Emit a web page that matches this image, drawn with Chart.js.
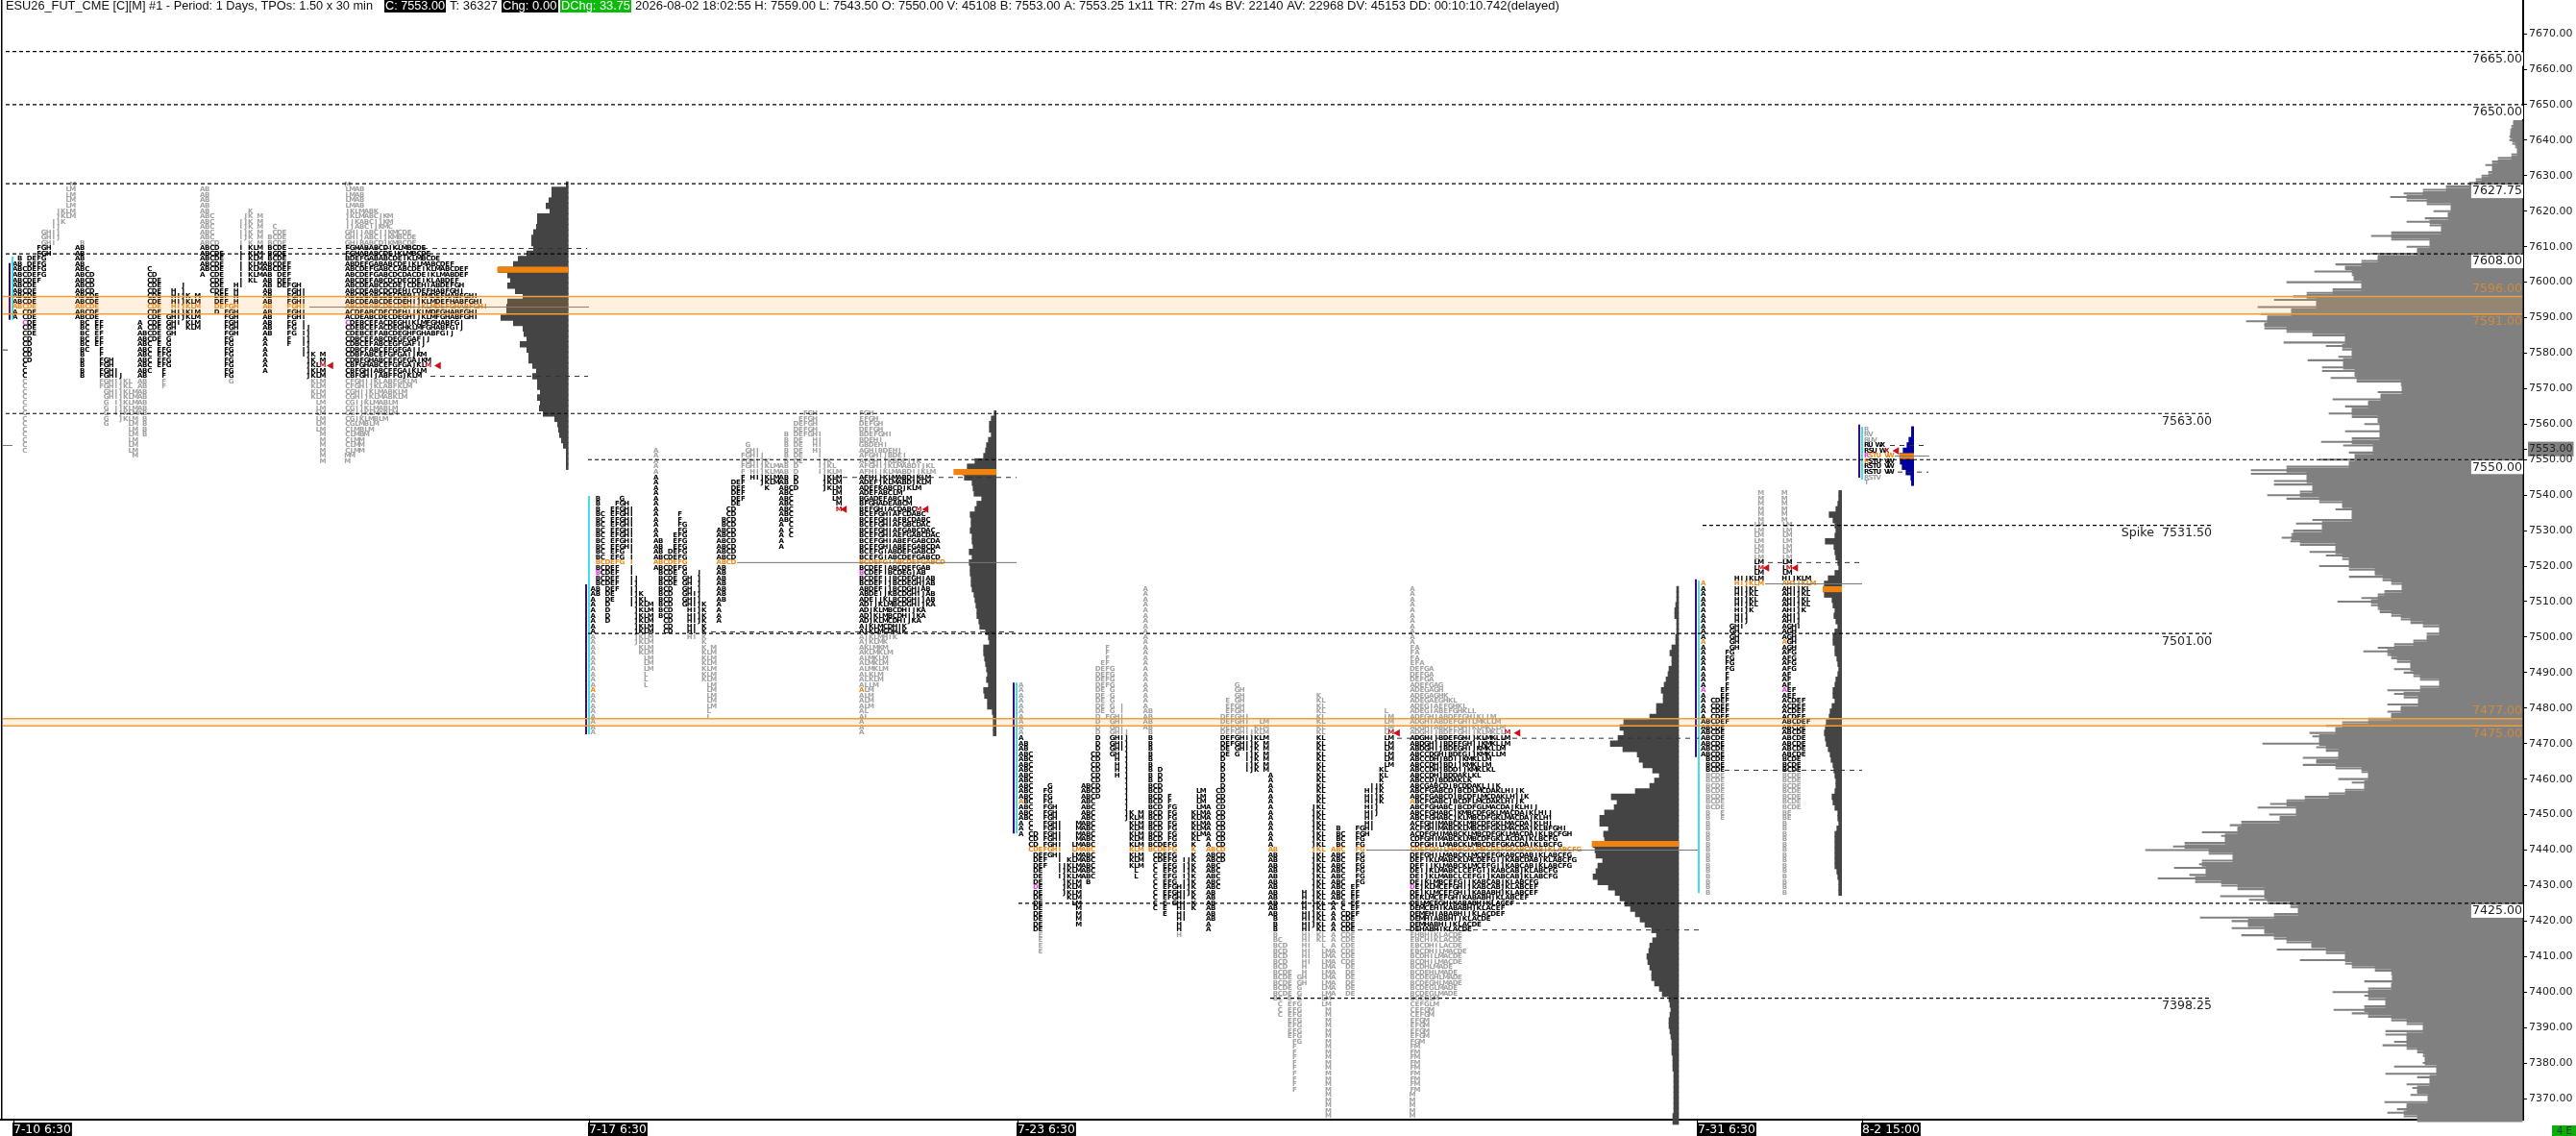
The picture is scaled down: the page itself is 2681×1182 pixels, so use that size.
<!DOCTYPE html>
<html>
<head>
<meta charset="utf-8">
<title>ESU26_FUT_CME market profile</title>
<script src="https://cdn.jsdelivr.net/npm/chart.js@4"></script>
<style>
  html, body { margin: 0; padding: 0; background: #fff; overflow: hidden; }
  canvas { display: block; }
</style>
</head>
<body>
<canvas id="profileChart" width="2681" height="1182"></canvas>
<script>
// ---- price axis
const yTicks = [7670,7660,7650,7640,7630,7620,7610,7600,7590,7580,7570,7560,7553,7550,7540,7530,7520,7510,7500,7490,7480,7470,7460,7450,7440,7430,7420,7410,7400,7390,7380,7370];
const lastPrice = 7553;

// ---- bar axis (x is the bar position on the time axis)
const xTicks = [14, 613, 1059, 1767, 1938];
const xTickLabels = ["7-10 6:30", "7-17 6:30", "7-23 6:30", "7-31 6:30", "8-2 15:00"];

// ---- TPO rows, one small list per day. Each row holds the letters printed at that price.
const jul10Day1 = "M LM LM LM LM JKLM JKLM IJK IJ GHIJ GHIJ GHI FGH FGH BDEFG ABDEFG ABCDEFG ABCDEFG ABCDEF ABCDE ABCDE ABCDE ABCDE ABCDE ACDE ACDE CDE CDE CDE CD CD CD CD CD C C C C C C C C C C C C C C C C C".split(" ");
const jul10Day2 = "B AB AB AB AB ABC ABCD ABCD ABCD ABCD ABCDE ABCDE ABCDE ABCDE ABCDE BCEF BCEF BCEF BCEF BCEF BCF BF BFGH BFGH BFGHI BFGHIJ FGHIJKL FGHIJKL GHIJKLM GHIJKLM GIJKLM GIJKLM GIJKLM GJKLM GLM LM LM LM LM LM M".split(" ");
const jul10Day3 = "C CD CDE CDEJ CDEHJ CDEHIJKM CDEHIJKLM CDEHIJKLM CDEHIJKLM CDEGHIJKLM ACDEGHIKLM ACDEGHKLM ABCDEGH ABCDEG ABCEG ABCEFG ABCEFG ABCEFG ABCEFG ABCF ABF ABF ABF AB AB AB AB AB B B B B".split(" ");
const jul10Day4 = "AB AB AB AB ABK ABCJKM ABCIJKM ABCIJKM ABCIJKM ABCIJKM ABCDIKM ABCDIKLM ABCDEIKLM ABCDEIKLM ABCDEIKLM ABCDEIKLM ACDEIKLM CDEIKL CDEHI CDEFH DEFH DEFH DEFGH DFGH FGH FGH FGH FGH FG FG FG FG FG FG FG FG G".split(" ");
const jul10Day5 = "C CDE BCDE BCDE BCDE BCDE BCDE ABCDEF ABCDEF ABDEF ABDEF ABDEFGH ABFGHI ABFGHI ABFGHI ABFGHI ABFGHI ABFGHI ABFGI ABFGIJ ABFGIJ AFIJ AFIJ AIJ AIJKM AJKM AJKLM AJKLM JKLM KLM KLM KLM KLM LM LM LM LM LM LM M M M M M M".split(" ");

const jul17Day1 = "BG BFGH BEFGHI BCEFGHI BCEFGHI BCEFGHI BCEFGHI BCEFGHI BCEFGHI BCEFGHI BCEFGI BCEFGI BCDEFGI BCDEFI BCDEFI BCDEFIJ BCDEFIJ ABDEFIJ ABDEIJK ADEIJKL ADIJKLM ADJKLM ADJKLM ADJKLM AJKLM AJKLM AJKLM AJKLM AKLM AKLM ALM ALM ALM AL AL AL A A A A A A A A A".split(" ");
const jul17Day2 = "A A A A A A A A A A A A AF AF AFG AFG AEFG ABEFG ABEFG ABDEFG ABCDEFG ABCDEFG ABCDEFG BCDEGJ BCDEGHJ BCDEGHJ BCDGHJ BCDGHIJ BCDGHIJ BCDGHIJK BCDHIJK BCDHIJK CDHIJK CDHIK CDHIK HIK K KM KLM KLM KLM KLM KLM KLM LM LM LM LM LM L L".split(" ");
const jul17Day3 = "G GHI FGHIJ FGHIJK FGHIJKLM FHIJKLM FHIJKLM DEFJKLM DEFK DEF DEF DE CD CD BCD BCD ABCD ABCD ABCD ABCD ABCD ABCD ABCD AB AB AB AB AB AB AB A A A A".split(" ");
const jul17Day4 = "FGH EFGH DEFGH DEFGH BDEFGHI BDEHI BDEHI BDEHI BDEI BDEIJK ABDIJKL ABDIJKLM ABDJKLM ABDJKLM ABCDJKLM ABCLM ABCLM ABCM ABCM ABC ABC AC AC AC A A".split(" ");

const jul23Day1 = "A A A A A A A A A A A AB AB ABC ABC ABC ABC ABC ABC ABCG ABCFG ABCFG ABCFG ABCFGH ABCFGH ABCFGH ACFGHIM ACFGHIM ACDFGHIM CDFGHIM CDFGHILM CDEFGHILM DEFGHILM DEFIKLM DEFIJKLM DEIJKLM DEIJKLM DEJKLM DEJKLM DEJKLM DEKLM DELM DEM DEM DEM DEM DE E E E E".split(" ");
const jul23Day2 = "F F F EF DEFG DEFG DEFG DEFG DEG DEG DEG DEGI DEGI DFGHI DGHI DGHI DGHIJ DGHIJ DGHIJ DGHIJ CDGHJ CDHJ CDHJ CDHJ CDHJ CDJ ABCDJ ABCDJ ABCDJ ABCJ ABCJ ABCJKM ABCJKLM ABCKLM ABCKLM ABCKLM ABCKLM ABCKLM ABCKLM ABCKLM ABCKLM ABCKLM ABCL ABCL B".split(" ");
const jul23Day3 = "A A A A A A A A A A A A A A A A A A A A A A A AB AB AB AB B B B B B B B BD BD BD BCD BCDLM BCDFLM BCDFLM BCDFGLM BCDFGKLM BCDFGKLM BCDFGKLM BCDFGKLM BCDFGKLM BCDFGKL BCDEFGK BCDEFGK CDEFGK CDEFGIJK CEFGIJK CEFGIJK CEFGIJK CEFGIJK CEFGHIJK CEFGHIJK CEFGHIK CEGHIK CEHIK EHI HI H H H".split(" ");
const jul23Day4 = "G GH GH EGH EFGH EFGH DEFGHI DEFGHILM DEFGHIKLM DEFGHIJKLM DEFGHIJKLM DEFGHIJKM DEGHIJKM DEGIJKM DIJKM DIJKM DIJKM D D D CD CD CD ACD ACD ACD ACD ACD ACD ACD ACD ABCD ABCD ABCD ABC ABC ABC ABC ABC AB AB AB AB AB AB A A".split(" ");
const jul23Day5 = "K KL KL KL KL KL KL KL KL KL KL KL KL KL KL AKL AKL AKL AKL AKL AKL AJKL AJKL AJKL AJKL AJKL AJKL AJKL AJKL ABJKL ABJKL ABJKL ABJKL ABJKL ABJKL ABJKL ABJKL ABHJKL ABHJKL ABHJKL ABHJKL ABHIJKL BHIJKL BHIJKL BHIKL BHIKL BCHIKL BCDHIL BCDHILM BCDHILM BCDHILM BCDHLM BCDEHLM BCDEGHLM BCDEGHLM BCDEGLM BCDEGLM BCEGLM CEFGLM CEFGM CEFGM EFGM EFGM EFGM EFGM FGM FM FM FM FM FM FM FM FM FM M M M M M".split(" ");
const jul23Day6 = "L LM LM LM LM LM LM LM LM LM LM KL KL K IJK HIJK HIJK HIJK HIJ HIJ HI HI BFGHI BCFGH BCFG BCFG ABCFG ABCFG ABCFG ABCFG ABCFG ABCFG ABCFG ABCEF ABCEF ABCEF ACEF ACEF ACDEF ACDE ACDE ACDE ACDE ACDE ACDE ACDE ACDE ACDE ADE ADE ADE ADE ADE ADE".split(" ");

const jul31Day1 = "M M M M M M LM LM LM LM LM LM LM LM LM LM HIJKLM AHIJKLM AHIJKL AHIJKL AHIJKL AHIJKL AHIJK AHIJ AHIJ AGHI AGH AGH AGH AGH AFG AFG AFG AFG AF AF AF AEF AEF ACDEF ACDEF ACDEF ACDEF ABCDEF ABCDE ABCDE ABCDE ABCDE ABCDE ABCDE BCDE BCDE BCDE BCDE BCDE BCDE BCDE BCDE BCDE BCDE BE BE B B B B B B B B B B B B B B".split(" ");

const aug2Rows = ["R", "RV", "RUV", "RU WX", "RSU WX", "RSTU VW", "RSTU VW", "RSTU VW", "RSTU VW", "RSTV", "T"];

// first row price / VA rows / POC row of each session
const sessionTop = [7627.5, 7563, 7513.5, 7540.5, 7558.5];
const vaTopRow = [12, 12, 28, 13, 3];
const vaBottomRow = [36, 41, 64, 52, 8];
const pocRow = [23, 28, 49, 17, 5];

// [session, day, row, letter, kind]
const letterMarks = [
  [0,0,26,"C","open"], [0,4,34,"M","last"],
  [1,0,30,"B","open"], [1,0,52,"A","ib"], [1,3,18,"M","last"],
  [2,0,40,"A","ib"], [2,0,56,"D","open"], [2,5,27,"M","last"],
  [3,0,28,"A","ib"], [3,0,37,"A","open"], [3,0,14,"M","last"],
  [4,0,5,"R","open"], [4,0,6,"R","ib"], [4,0,4,"X","last"]
];

// ---- session histograms (width in axis units per TPO row)
const hist1 = [2,17,17,20,23,19,32,32,33,36,38,38,36,43,52,57,72,63,60,63,55,47,63,64,64,70,57,47,46,43,50,43,41,41,37,33,37,32,32,29,32,29,30,26,14,11,10,9,7,5,2,2,2,2];
const hist2 = [2,5,7,7,5,8,10,11,13,22,30,35,33,25,24,23,15,20,22,27,26,26,27,25,25,24,28,25,28,27,27,26,26,25,23,22,21,20,20,18,17,11,8,7,13,13,12,11,10,9,10,8,13,12,9,9,4,3,3,3,3];
const hist3 = [2,2,2,3,4,4,2,2,2,3,3,7,9,7,7,10,11,13,15,18,16,16,23,23,30,57,61,57,63,71,58,43,41,37,27,20,25,30,45,70,64,67,77,82,82,73,78,77,89,87,
  86,79,84,86,89,84,73,66,61,56,50,45,40,35,28,23,27,30,31,33,32,30,28,28,25,20,17,10,9,8,9,10,10,9,8,7,7,7,6,6,6,5,5,5,5,5,5,5,5,6,6];
const hist4 = [3,3,4,6,13,9,7,6,7,17,8,7,6,4,3,7,14,18,19,18,10,9,7,8,6,4,7,9,9,7,7,5,4,3,4,6,7,9,9,7,10,12,13,16,17,18,17,16,14,12,11,9,8,7,6,6,7,10,9,7,4,4,3,5,7,7,7,7,7,7,7,5,4,3,3,3];
const hist5 = [2.3,2.3,5,7,11,14.5,14,12,8,3,2.3];
const histPocPrice = [7603.5, 7546.5, 7441.75, 7513.5, 7551];
const histPocWidth = [73.5, 44, 90, 19.3, 14.5];

// ---- composite volume profile at the right, one value per point from 7645 down to 7364
const volumeTop = 7645;
const volume = [9,11,12,12,13,13,10,7,5,11,25,31,38,31,35,42,48,55,79,
  103,123,137,120,99,74,92,77,101,120,96,84,136,157,136,96,120,109,157,150,167,194,184,216,177,175,245,167,197,224,238,258,214,275,240,272,265,287,268,268,245,218,184,248,204,187,177,191,223,186,208,208,174,199,172,126,125,150,147,197,160,184,177,201,177,150,164,148,184,148,177,209,186,155,180,174,211,180,245,282,282,224,258,258,218,231,265,245,211,187,194,177,177,218,235,208,238,240,250,
  241,231,194,221,204,187,180,211,180,153,180,145,136,125,143,150,167,192,157,150,148,136,126,116,103,86,99,99,113,133,150,165,140,136,130,116,133,123,113,106,86,106,140,133,123,108,140,126,140,136,160,187,204,194,221,218,211,270,214,204,191,228,214,228,194,167,160,191,177,164,184,201,226,245,262,275,235,263,252,292,304,296,333,313,309,351,363,392,326,301,333,336,362,329,346,379,340,313,296,268,314,284,265,241,233,258,335,302,285,302,268,292,258,245,219,255,204,184,231,184,177,153,136,135,164,136,160,197,164,160,142,164,196,177,160,136,120,103,142,142,120,133,145,120,109,103,101,103,133,89,142,109,96,120,114,109,116,98,143,120,130,140,123,109];

// ---- price levels
const levelPrices = [7665, 7650, 7627.75, 7608, 7550, 7425, 7563, 7501, 7398.25, 7531.5];
const levelFrom = [6, 6, 6, 6, 612, 1060, 6, 612, 1322, 1772];
const levelTo = [2625, 2625, 2625, 2625, 2625, 2625, 2302, 2302, 2302, 2302];
const levelNames = ["", "", "", "", "", "", "", "", "", "Spike  "];
const zonePrices = [[7596, 7591], [7477, 7475]];

// ---- value area and POC lines of each session [price, from, to]
const vaLines = [[7609.5,300,611],[7573.5,448,612],[7545,867,1058],[7501.5,740,1058],[7471.5,1454,1768],[7417.5,1413,1768],[7521,1840,1937],[7462.5,1795,1938],[7554,1967,2007],[7546.5,1965,2007],[7580.9,3,13]];
const pocLines = [[7593,322,613],[7521,767,1058],[7440,1422,1767],[7515,1837,1938],[7551,1972,2008],[7554,3,13]];

// ---- session range bars [bar position, high, low]
const cyanRanges = [[13,7607.2,7589.4],[613,7539.75,7472.6],[1058,7487.2,7444.7],[1768,7515.9,7427.9],[1938,7559.3,7544.4]];
const purpleRanges = [[10,7605.4,7589.4],[610,7514.9,7472.6],[1055,7487.2,7444.7],[1765,7516.3,7466.2],[1935,7559.9,7544.9]];

// ---- red last-price arrows [bar position, price]
const lastArrows = [[344.5,7576.5],[456.5,7576.5],[879,7536],[964,7536],[1454.6,7473],[1580,7473],[1839,7519.5],[1869,7519.5],[1974,7552.5]];

const headerText1 = "ESU26_FUT_CME [C][M] #1 - Period: 1 Days, TPOs: 1.50 x 30 min";
const headerText2 = "2026-08-02 18:02:55 H: 7559.00 L: 7543.50 O: 7550.00 V: 45108 B: 7553.00 A: 7553.25 1x11 TR: 27m 4s BV: 22140 AV: 22968 DV: 45153 DD: 00:10:10.742(delayed)";

// ---- layout of the sessions on the bar axis
const sessions = [
  { days: [[jul10Day1,0,15.7],[jul10Day2,11,80.7],[jul10Day3,16,145.7],[jul10Day4,1,210.7],[jul10Day5,8,276]], comp: 361.7, edge: 591.3, hist: hist1 },
  { days: [[jul17Day1,16,617.3],[jul17Day2,7,682.7],[jul17Day3,6,748.3],[jul17Day4,0,813.3]], comp: 896.7, edge: 1036.7, hist: hist2 },
  { days: [[jul23Day1,18,1062.8],[jul23Day2,11,1127.6],[jul23Day3,0,1192.3],[jul23Day4,18,1257.7],[jul23Day5,20,1322.4],[jul23Day6,23,1387.8]], comp: 1470, edge: 1747, hist: hist3 },
  { days: [[jul31Day1,0,1772.7]], comp: 1857.3, edge: 1916.7, hist: hist4 },
  { days: [], comp: 1942.7, edge: 1991.7, hist: hist5, rows: aug2Rows }
];

const COLORS = { black: "#000", grey: "#a2a2a2", poc: "#f0881a", open: "#e040e0", ib: "#f0881a", last: "#c01818" };
const LETTER_STEP = 5, COMP_STEP = 4.95;
const VOLUME_EDGE = 2625;

function letterColor(s, d, r, ch) {
  for (const m of letterMarks) {
    if (m[0] === s && m[1] === d && m[2] === r && m[3] === ch) return COLORS[m[4]];
  }
  if (r === pocRow[s]) return COLORS.poc;
  if (r >= vaTopRow[s] && r <= vaBottomRow[s]) return COLORS.black;
  return COLORS.grey;
}

// draws the TPO letters, behind the level lines
const tpoLetters = {
  id: "tpoLetters",
  beforeDatasetsDraw(chart) {
    const ctx = chart.ctx, xs = chart.scales.x, ys = chart.scales.y;
    ctx.save();
    ctx.font = 'bold 7px "DejaVu Sans"';
    ctx.textAlign = "center";
    ctx.textBaseline = "middle";
    sessions.forEach((ses, s) => {
      const rowCount = ses.rows ? ses.rows.length : Math.max(...ses.days.map(d => d[1] + d[0].length));
      for (let r = 0; r < rowCount; r++) {
        const py = ys.getPixelForValue(sessionTop[s] - 1.5 * r);
        let k = 0;
        if (ses.rows) {
          for (const ch of ses.rows[r]) {
            if (ch !== " ") {
              ctx.fillStyle = letterColor(s, 0, r, ch);
              ctx.fillText(ch, xs.getPixelForValue(ses.comp + 4.2 * k), py);
            }
            k++;
          }
          continue;
        }
        ses.days.forEach((day, d) => {
          const row = day[0][r - day[1]];
          if (!row) return;
          for (const ch of row) {
            ctx.fillStyle = letterColor(s, d, r, ch);
            ctx.fillText(ch, xs.getPixelForValue(day[2] + LETTER_STEP * (ch.charCodeAt(0) - 65)), py);
            ctx.fillText(ch, xs.getPixelForValue(ses.comp + COMP_STEP * k), py);
            k++;
          }
        });
      }
    });
    ctx.restore();
  }
};

function priceLabel(ctx, text, right, cy, color, box) {
  ctx.font = '12.6px "DejaVu Sans"';
  ctx.textAlign = "right";
  ctx.textBaseline = "middle";
  if (box) {
    const w = ctx.measureText(text).width;
    ctx.fillStyle = "#fff";
    ctx.fillRect(right - w - 1, cy - 7, w + 2, 14);
  }
  ctx.fillStyle = color;
  ctx.fillText(text, right, cy);
}

// header line, level labels and the left frame line
const overlayText = {
  id: "overlayText",
  afterDraw(chart) {
    const ctx = chart.ctx, ys = chart.scales.y;
    ctx.save();
    levelPrices.forEach((p, i) => {
      const boxed = levelTo[i] === VOLUME_EDGE;
      priceLabel(ctx, levelNames[i] + p.toFixed(2), levelTo[i], ys.getPixelForValue(p) + 8, "#222", boxed);
    });
    zonePrices.forEach(z => {
      priceLabel(ctx, z[0].toFixed(2), VOLUME_EDGE, ys.getPixelForValue(z[0]) - 8, "#d08a3c", false);
      priceLabel(ctx, z[1].toFixed(2), VOLUME_EDGE, ys.getPixelForValue(z[1]) + 8, "#d08a3c", false);
    });

    ctx.fillStyle = "#000";
    ctx.fillRect(1, 0, 1.5, 1165);

    const head = (text, x, w, bg, fg) => {
      if (bg) { ctx.fillStyle = bg; ctx.fillRect(x - 1, 0, w + 2, 13); }
      ctx.fillStyle = fg;
      ctx.fillText(text, x, 6.5, w);
    };
    ctx.font = '13px "Liberation Sans"';
    ctx.textAlign = "left";
    ctx.textBaseline = "middle";
    head(headerText1, 6, 382, null, "#111");
    head("C: 7553.00", 401, 62, "#000", "#fff");
    head("T: 36327", 468, 50, null, "#111");
    head("Chg: 0.00", 523, 57, "#000", "#fff");
    head("DChg: 33.75", 584, 72, "#0cba0c", "#fff");
    head(headerText2, 661, 971, null, "#111");

    ctx.fillStyle = "#0cae0c";
    ctx.fillRect(2656, 1171, 25, 11);
    ctx.fillStyle = "#143";
    ctx.font = '10px "DejaVu Sans"';
    ctx.fillText("4 E", 2661, 1177);
    ctx.restore();
  }
};

const datasets = [];

function barSet(rows, color, thick, order) {
  datasets.push({
    type: "bar", indexAxis: "y", data: rows, backgroundColor: color, borderWidth: 0,
    barThickness: thick, grouped: false, order: order, clip: false
  });
}
function lineSet(points, color, width, dash, order, extra) {
  datasets.push(Object.assign({
    type: "scatter", showLine: true, data: points, borderColor: color, borderWidth: width,
    borderDash: dash, pointRadius: 0, order: order, clip: false
  }, extra || {}));
}

// level lines, then value area / POC lines
levelPrices.forEach((p, i) => lineSet([{ x: levelFrom[i], y: p }, { x: levelTo[i], y: p }], "#000", 1.2, [4, 3], 2));
vaLines.forEach(l => lineSet([{ x: l[1], y: l[0] }, { x: l[2], y: l[0] }], "#333", 1, [5, 5], 2));
pocLines.forEach(l => lineSet([{ x: l[1], y: l[0] }, { x: l[2], y: l[0] }], "#777", 1, [], 3));

// orange zones over everything
zonePrices.forEach(z => {
  lineSet([{ x: 3, y: z[0] }, { x: VOLUME_EDGE, y: z[0] }], "#e8a040", 1.5, [], 1, { fill: "+1", backgroundColor: "rgba(255,160,60,0.16)" });
  lineSet([{ x: 3, y: z[1] }, { x: VOLUME_EDGE, y: z[1] }], "#e8a040", 1.5, [], 1);
});

// session range bars
cyanRanges.forEach(r => lineSet([{ x: r[0], y: r[1] }, { x: r[0], y: r[2] }], "#3fe0ea", 2, [], 4));
purpleRanges.forEach(r => lineSet([{ x: r[0], y: r[1] }, { x: r[0], y: r[2] }], "#3c0a7c", 2, [], 4));

// session histograms and POC bars
sessions.forEach((ses, s) => {
  const color = ses.rows ? "#00009c" : "#444";
  barSet(ses.hist.map((w, i) => ({ y: sessionTop[s] - 1.5 * i, x: [ses.edge - w, ses.edge] })), color, 5.9, 6);
  barSet([{ y: histPocPrice[s], x: [ses.edge - histPocWidth[s], ses.edge] }], "#f0820f", 5.5, 5);
});

// composite volume profile: solid body under thin spikes
barSet(volume.map((w, i) => ({ y: volumeTop - i, x: [VOLUME_EDGE - w, VOLUME_EDGE] })), "#808080", 1.4, 7);
barSet(volume.map((w, i) => {
  const prev = i > 0 ? volume[i - 1] : w, next = i < volume.length - 1 ? volume[i + 1] : w;
  return { y: volumeTop - i, x: [VOLUME_EDGE - Math.min(prev, w, next), VOLUME_EDGE] };
}), "#808080", 4.1, 7);

// last price arrows
datasets.push({
  type: "scatter", data: lastArrows.map(a => ({ x: a[0], y: a[1] })), pointStyle: "triangle", rotation: 270,
  pointRadius: 4.5, pointBackgroundColor: "#cc1018", pointBorderWidth: 0, order: 0, clip: false
});

new Chart(document.getElementById("profileChart"), {
  type: "scatter",
  data: { datasets: datasets },
  plugins: [tpoLetters, overlayText],
  options: {
    responsive: false,
    animation: false,
    events: [],
    layout: { padding: 0, autoPadding: false },
    plugins: { legend: { display: false }, tooltip: { enabled: false }, title: { display: false } },
    scales: {
      x: {
        type: "linear", position: "bottom", min: 0, max: 2626, offset: false,
        afterBuildTicks: axis => { axis.ticks = xTicks.map(v => ({ value: v })); },
        afterFit: axis => { axis.height = 17; axis.paddingLeft = 0; axis.paddingRight = 0; },
        grid: { drawOnChartArea: false, offset: false, tickLength: 17, tickColor: "#000", tickWidth: 1 },
        border: { color: "#000", width: 2 },
        ticks: {
          autoSkip: false, maxRotation: 0, align: "start", padding: -14,
          font: { family: "DejaVu Sans", size: 12.4 }, color: "#fff",
          showLabelBackdrop: true, backdropColor: "#000", backdropPadding: { top: 0, bottom: 0, left: 1, right: 1 },
          callback: v => xTickLabels[xTicks.indexOf(v)]
        }
      },
      y: {
        type: "linear", position: "right", min: 7364.05, max: 7679.5, offset: false,
        afterBuildTicks: axis => { axis.ticks = yTicks.map(v => ({ value: v })); },
        afterFit: axis => { axis.width = 55; axis.paddingTop = 0; axis.paddingBottom = 0; },
        grid: { drawOnChartArea: false, offset: false, tickLength: 4, tickColor: "#000" },
        border: { color: "#000", width: 2 },
        ticks: {
          autoSkip: false, padding: 2, color: "#222",
          font: { family: "DejaVu Sans", size: 11 },
          showLabelBackdrop: c => c.tick.value === lastPrice,
          backdropColor: c => c.tick.value === lastPrice ? "#808080" : "rgba(0,0,0,0)",
          backdropPadding: 1,
          callback: v => v.toFixed(2)
        }
      }
    }
  }
});
</script>
</body>
</html>
